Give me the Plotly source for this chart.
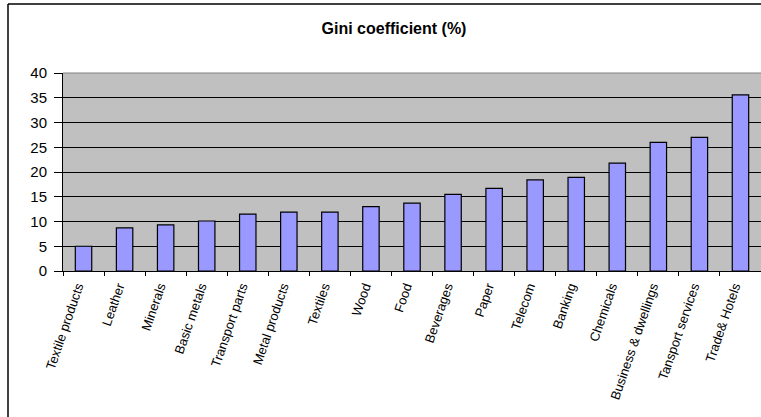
import plotly.graph_objects as go

categories = ["Textile products", "Leather", "Minerals", "Basic metals", "Transport parts",
              "Metal products", "Textiles", "Wood", "Food", "Beverages", "Paper", "Telecom",
              "Banking", "Chemicals", "Business & dwellings", "Tansport services", "Trade& Hotels"]
values = [5.0, 8.7, 9.3, 10.1, 11.5, 11.9, 11.9, 13.0, 13.7, 15.5, 16.7, 18.4,
          18.9, 21.8, 26.0, 27.0, 35.6]
y_ticks = [0, 5, 10, 15, 20, 25, 30, 35, 40]

W, H = 761, 417
ml, mt, mr, mb = 63, 73, 0, 146
pw, ph = W - ml - mr, H - mt - mb

def px_x(p):
    return (p - ml) / pw

def px_y(p):
    return (H - mb - p) / ph

fig = go.Figure(go.Bar(
    x=categories, y=values,
    marker=dict(color="#9999FF", line=dict(color="#000000", width=1.2)),
    width=0.4,
))

fig.update_layout(
    width=W, height=H,
    margin=dict(l=ml, r=mr, t=mt, b=mb),
    paper_bgcolor="white",
    plot_bgcolor="#C0C0C0",
    showlegend=False,
    font=dict(family="Liberation Sans, Arial, sans-serif", color="black"),
    title=dict(text="<b>Gini coefficient (%)</b>", x=394 / W, xanchor="center",
               y=1 - 28 / H, yanchor="middle", font=dict(size=16)),
    xaxis=dict(
        type="category", tickangle=-71, tickfont=dict(size=13),
        showline=True, linecolor="black", linewidth=1,
        ticks="outside", ticklen=4, tickcolor="black", tickson="boundaries",
        ticklabelshift=-6, ticklabelstandoff=2,
        showgrid=False, range=[-0.5, len(categories) - 0.5],
    ),
    yaxis=dict(
        range=[0, 40], tickvals=y_ticks, tickfont=dict(size=15),
        showline=True, linecolor="black", linewidth=1,
        ticks="outside", ticklen=8, tickcolor="black", ticklabelstandoff=4,
        showgrid=True, gridcolor="black", gridwidth=1, zeroline=False,
    ),
    shapes=[
        dict(type="line", xref="paper", yref="paper", x0=px_x(8), x1=px_x(W + 5),
             y0=px_y(4), y1=px_y(4), line=dict(color="black", width=1.5)),
        dict(type="line", xref="paper", yref="paper", x0=px_x(8), x1=px_x(8),
             y0=px_y(4), y1=px_y(H + 5), line=dict(color="black", width=1.5)),
        dict(type="line", xref="paper", yref="paper", x0=0, x1=1,
             y0=1, y1=1, line=dict(color="#808080", width=1)),
    ],
)

fig.write_html("out.html", config={"displayModeBar": False},
               post_script="document.body.style.margin='0';document.body.style.overflow='hidden';")
